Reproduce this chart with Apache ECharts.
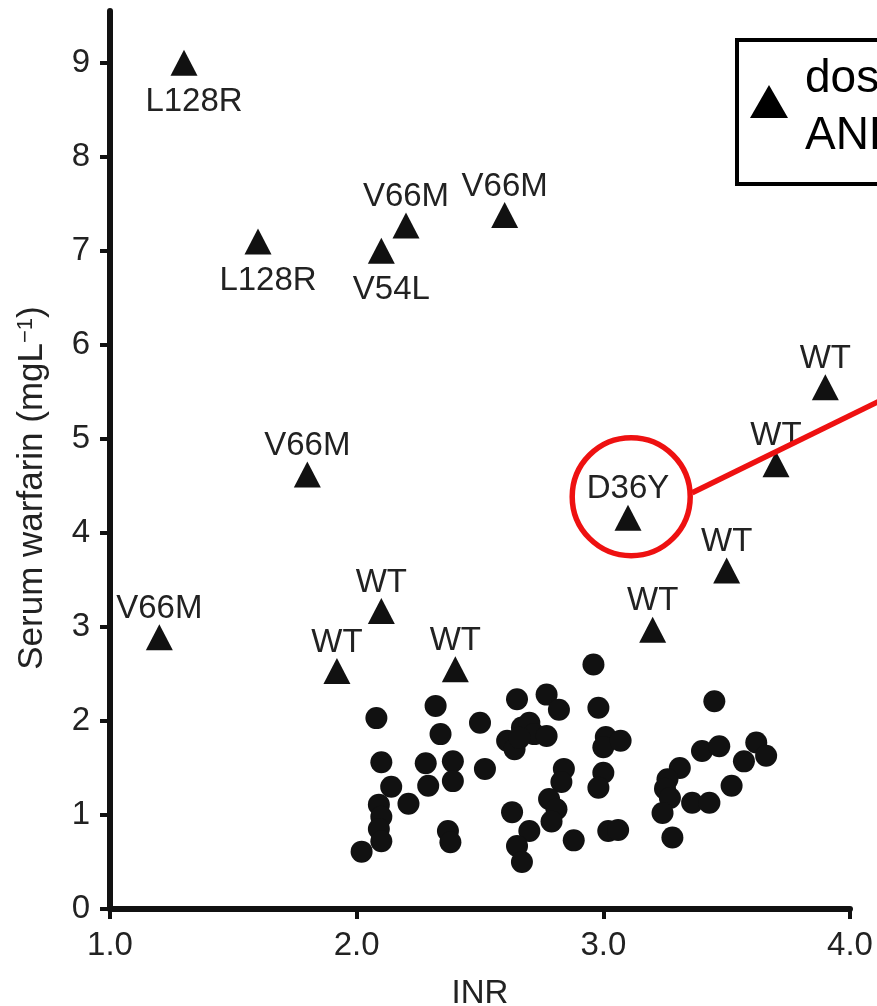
<!DOCTYPE html>
<html>
<head>
<meta charset="utf-8">
<script src="https://cdn.jsdelivr.net/npm/echarts@6/dist/echarts.min.js"></script>
<style>
html, body { margin: 0; padding: 0; background: #fff; overflow: hidden; }
#chart { width: 877px; height: 1006px; }
</style>
</head>
<body>
<div id="chart"></div>
<script>
// patients flagged by dosing (triangles), genotype as label
const triNames = ['L128R', 'L128R', 'V54L', 'V66M', 'V66M', 'V66M', 'V66M', 'WT', 'WT', 'WT', 'D36Y', 'WT', 'WT', 'WT', 'WT'];
const triINR = [1.3, 1.6, 2.1, 2.2, 2.6, 1.8, 1.2, 2.1, 1.92, 2.4, 3.1, 3.2, 3.5, 3.7, 3.9];
const triWarfarin = [9.0, 7.1, 7.0, 7.27, 7.38, 4.62, 2.89, 3.17, 2.53, 2.55, 4.16, 2.97, 3.6, 4.73, 5.55];
const triLabelSide = ['bottom', 'bottom', 'bottom', 'top', 'top', 'top', 'top', 'top', 'top', 'top', 'top', 'top', 'top', 'top', 'top'];

// remaining patients (circles)
const dotINR = [
  2.02, 2.08, 2.10, 2.14, 2.09, 2.10, 2.09, 2.10, 2.21, 2.28, 2.29, 2.32, 2.34, 2.39, 2.39, 2.37, 2.38,
  2.50, 2.52, 2.65, 2.77, 2.82, 2.61, 2.64, 2.67, 2.70, 2.72, 2.77, 2.66, 2.63, 2.70, 2.65, 2.67,
  2.84, 2.83, 2.78, 2.81, 2.79, 2.88, 2.96, 2.98, 3.01, 3.00, 3.07, 3.00, 2.98, 3.02, 3.06,
  3.31, 3.26, 3.25, 3.27, 3.24, 3.28, 3.45, 3.40, 3.47, 3.36, 3.43, 3.52, 3.57, 3.62, 3.66
];
const dotWarfarin = [
  0.61, 2.03, 1.56, 1.30, 1.11, 0.98, 0.85, 0.72, 1.12, 1.55, 1.31, 2.16, 1.86, 1.57, 1.36, 0.83, 0.71,
  1.98, 1.49, 2.23, 2.28, 2.12, 1.79, 1.70, 1.93, 1.98, 1.86, 1.84, 1.82, 1.03, 0.83, 0.67, 0.50,
  1.49, 1.35, 1.17, 1.06, 0.93, 0.73, 2.60, 2.14, 1.83, 1.72, 1.79, 1.45, 1.29, 0.83, 0.84,
  1.50, 1.38, 1.28, 1.18, 1.02, 0.76, 2.21, 1.68, 1.73, 1.13, 1.13, 1.31, 1.57, 1.77, 1.63
];

const xTicks = [1, 2, 3, 4];
const yTicks = [0, 1, 2, 3, 4, 5, 6, 7, 8, 9];
const legendLines = ['dose', 'AND'];
// callout circle around the D36Y patient (data coords)
const calloutCenter = [3.113, 4.385];

const FONT = "'Liberation Sans', Arial, Helvetica, sans-serif";
const INK = '#111';
const TXT = '#222';

const triData = triNames.map((n, i) => {
  const item = { name: n, value: [triINR[i], triWarfarin[i]] };
  if (triLabelSide[i] === 'bottom') {
    item.label = { position: 'bottom', distance: 10, offset: [10, 0] };
  }
  return item;
});
const dotData = dotINR.map((x, i) => [x, dotWarfarin[i]]);

const axisCommon = {
  axisLine: { show: true, onZero: false, lineStyle: { color: INK, width: 6 } },
  axisTick: { show: true, length: 10, lineStyle: { color: INK, width: 4 } },
  splitLine: { show: false },
  nameTextStyle: { fontFamily: FONT, fontSize: 33, color: TXT }
};

const option = {
  animation: false,
  backgroundColor: '#fff',
  textStyle: { fontFamily: FONT },
  grid: { left: 110, right: 27, top: 11, bottom: 97, outerBoundsMode: 'none' },
  xAxis: Object.assign({}, axisCommon, {
    type: 'value',
    min: 1,
    max: 4,
    interval: 1,
    name: 'INR',
    nameLocation: 'middle',
    nameGap: 68,
    axisLabel: { fontSize: 33, color: TXT, margin: 20, formatter: v => v.toFixed(1), fontFamily: FONT,
      customValues: xTicks },
    axisTick: { show: true, length: 10, lineStyle: { color: INK, width: 4 }, customValues: xTicks }
  }),
  yAxis: Object.assign({}, axisCommon, {
    type: 'value',
    min: 0,
    max: 9.55,
    name: 'Serum warfarin (mgL{sup|\u22121})',
    nameLocation: 'middle',
    nameGap: 60,
    nameTextStyle: {
      fontFamily: FONT, fontSize: 35, color: TXT, padding: [0, 56, 0, 0],
      rich: { sup: { fontFamily: FONT, fontSize: 22, color: TXT, verticalAlign: 'top' } }
    },
    axisLabel: { fontSize: 33, color: TXT, margin: 20, fontFamily: FONT, customValues: yTicks },
    axisTick: { show: true, length: 10, lineStyle: { color: INK, width: 4 }, customValues: yTicks }
  }),
  series: [
    {
      name: 'circles',
      type: 'scatter',
      symbol: 'circle',
      symbolSize: 22,
      itemStyle: { color: INK, opacity: 1 },
      data: dotData,
      z: 2
    },
    {
      name: 'triangles',
      type: 'scatter',
      symbol: 'triangle',
      symbolSize: [27, 26],
      itemStyle: { color: INK, opacity: 1 },
      label: {
        show: true,
        position: 'top',
        distance: -1,
        formatter: p => p.name,
        fontFamily: FONT,
        fontSize: 33,
        color: TXT
      },
      data: triData,
      z: 3
    }
  ]
};

const chart = echarts.init(document.getElementById('chart'));
chart.setOption(option);

const c = chart.convertToPixel({ gridIndex: 0 }, calloutCenter);
const lineStart = [c[0] + 61, c[1] - 4];
const slope = -0.489;
const lineEnd = [lineStart[0] + 320, lineStart[1] + slope * 320];

chart.setOption({
  graphic: [
    {
      type: 'circle',
      z: 100,
      shape: { cx: c[0], cy: c[1], r: 59 },
      style: { fill: 'none', stroke: '#ee1111', lineWidth: 5.5 }
    },
    {
      type: 'line',
      z: 100,
      shape: { x1: lineStart[0], y1: lineStart[1], x2: lineEnd[0], y2: lineEnd[1] },
      style: { stroke: '#ee1111', lineWidth: 5.5 }
    },
    {
      type: 'group',
      z: 100,
      children: [
        {
          type: 'rect',
          shape: { x: 737, y: 40, width: 400, height: 144 },
          style: { fill: '#fff', stroke: '#000', lineWidth: 4 }
        },
        {
          type: 'polygon',
          shape: { points: [[769, 85], [788, 118], [750, 118]] },
          style: { fill: '#000' }
        },
        {
          type: 'text',
          style: { text: legendLines[0], x: 805, y: 56, font: '46px ' + FONT, fill: '#000', verticalAlign: 'top' }
        },
        {
          type: 'text',
          style: { text: legendLines[1], x: 805, y: 113, font: '46px ' + FONT, fill: '#000', verticalAlign: 'top' }
        }
      ]
    }
  ]
});
</script>
</body>
</html>
